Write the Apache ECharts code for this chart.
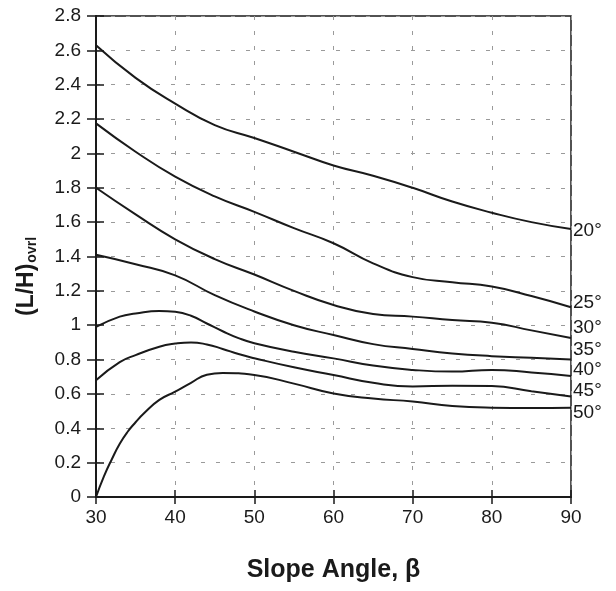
<!DOCTYPE html>
<html>
<head>
<meta charset="utf-8">
<script src="https://cdn.jsdelivr.net/npm/echarts@6/dist/echarts.min.js"></script>
<style>
html,body{margin:0;padding:0;background:#fff;}
#chart{width:616px;height:591px;}
</style>
</head>
<body>
<div id="chart"></div>
<script>
// Slope angle (x) sample positions
var xCommon = [30, 35, 40, 45, 50, 55, 60, 65, 70, 75, 80, 85, 90];
var xPeak = [30, 33, 35, 38, 40, 42, 44, 46, 48, 50, 55, 60, 65, 70, 75, 80, 85, 90];
var x50 = [30, 31, 32, 33, 34, 35, 36, 38, 40, 42, 44, 46, 50, 55, 60, 65, 70, 75, 80, 85, 90];

// (L/H)ovrl values per curve
var ovrl20 = [2.63, 2.44, 2.29, 2.165, 2.09, 2.01, 1.93, 1.87, 1.80, 1.72, 1.655, 1.60, 1.56];
var ovrl25 = [2.175, 2.01, 1.865, 1.75, 1.66, 1.565, 1.477, 1.36, 1.28, 1.25, 1.225, 1.17, 1.105];
var ovrl30 = [1.80, 1.645, 1.50, 1.385, 1.295, 1.20, 1.118, 1.065, 1.05, 1.03, 1.015, 0.97, 0.925];
var ovrl35 = [1.41, 1.355, 1.29, 1.175, 1.08, 1.0, 0.943, 0.89, 0.862, 0.836, 0.82, 0.81, 0.80];
var ovrl40 = [0.99, 1.05, 1.068, 1.083, 1.078, 1.055, 1.01, 0.965, 0.925, 0.895, 0.845, 0.807, 0.765, 0.74, 0.73, 0.74, 0.725, 0.705];
var ovrl45 = [0.68, 0.785, 0.826, 0.875, 0.893, 0.9, 0.888, 0.862, 0.832, 0.808, 0.755, 0.71, 0.665, 0.643, 0.648, 0.646, 0.615, 0.585];
var ovrl50 = [0, 0.12, 0.22, 0.31, 0.38, 0.435, 0.485, 0.565, 0.613, 0.665, 0.712, 0.722, 0.71, 0.66, 0.603, 0.573, 0.556, 0.53, 0.52, 0.518, 0.52];

var curveNames = ['20°', '25°', '30°', '35°', '40°', '45°', '50°'];
var curveX = [xCommon, xCommon, xCommon, xCommon, xPeak, xPeak, x50];
var curveY = [ovrl20, ovrl25, ovrl30, ovrl35, ovrl40, ovrl45, ovrl50];
var labelShift = [2, -4, -10, -10, -6, -6, 5];

var FONT = '"Liberation Sans", Arial, Helvetica, sans-serif';
var INK = '#1a1a1a';

function pairs(xs, ys) {
  return xs.map(function (x, i) { return [x, ys[i]]; });
}

var series = curveNames.map(function (name, k) {
  return {
    name: name,
    type: 'line',
    xAxisIndex: 0,
    yAxisIndex: 0,
    data: pairs(curveX[k], curveY[k]),
    smooth: 0.5,
    showSymbol: false,
    symbol: 'none',
    silent: true,
    lineStyle: { color: INK, width: 2 },
    endLabel: {
      show: true,
      formatter: name,
      distance: 2,
      offset: [0, labelShift[k]],
      color: INK,
      fontFamily: FONT,
      fontSize: 19
    },
    animation: false
  };
});

var chart = echarts.init(document.getElementById('chart'), null, { renderer: 'canvas' });
chart.setOption({
  backgroundColor: '#ffffff',
  animation: false,
  grid: {
    left: 96, right: 45, top: 16, bottom: 94,
    show: true, borderColor: INK, borderWidth: 1.5, backgroundColor: 'transparent'
  },
  xAxis: [
    {
      type: 'value', min: 30, max: 90, interval: 10, position: 'bottom',
      name: 'Slope Angle, β', nameLocation: 'middle', nameGap: 61,
      nameTextStyle: { fontFamily: FONT, fontWeight: 'bold', fontSize: 25, color: INK },
      axisLine: { show: true, onZero: false, lineStyle: { color: INK, width: 2 } },
      axisTick: { show: true, inside: false, length: 7, lineStyle: { color: INK, width: 1.5 } },
      axisLabel: { fontFamily: FONT, fontSize: 19, color: INK, margin: 11 },
      splitLine: { show: true, lineStyle: { color: '#9a9a9a', type: [4, 11], width: 1 } }
    },
    {
      type: 'value', min: 30, max: 90, interval: 10, position: 'bottom',
      axisLine: { show: false },
      axisTick: { show: true, inside: true, length: 7, lineStyle: { color: INK, width: 1.5 } },
      axisLabel: { show: false },
      splitLine: { show: false }
    }
  ],
  yAxis: [
    {
      type: 'value', min: 0, max: 2.8, interval: 0.2, position: 'left',
      name: '{a|(L/H)}{b|ovrl}', nameLocation: 'middle', nameGap: 57,
      nameTextStyle: {
        color: INK,
        padding: [0, 40, 0, 0],
        rich: {
          a: { fontFamily: FONT, fontWeight: 'bold', fontSize: 23, color: INK },
          b: { fontFamily: FONT, fontWeight: 'bold', fontSize: 14, color: INK, padding: [10, 0, 0, 1] }
        }
      },
      axisLine: { show: true, onZero: false, lineStyle: { color: INK, width: 2 } },
      axisTick: { show: true, inside: false, length: 9, lineStyle: { color: INK, width: 1.5 } },
      axisLabel: { fontFamily: FONT, fontSize: 19, color: INK, margin: 15 },
      splitLine: { show: true, lineStyle: { color: '#9a9a9a', type: [4, 11], width: 1 } }
    },
    {
      type: 'value', min: 0, max: 2.8, interval: 0.2, position: 'left',
      axisLine: { show: false },
      axisTick: { show: true, inside: true, length: 8, lineStyle: { color: INK, width: 1.5 } },
      axisLabel: { show: false },
      splitLine: { show: false }
    }
  ],
  series: series
});
</script>
</body>
</html>
